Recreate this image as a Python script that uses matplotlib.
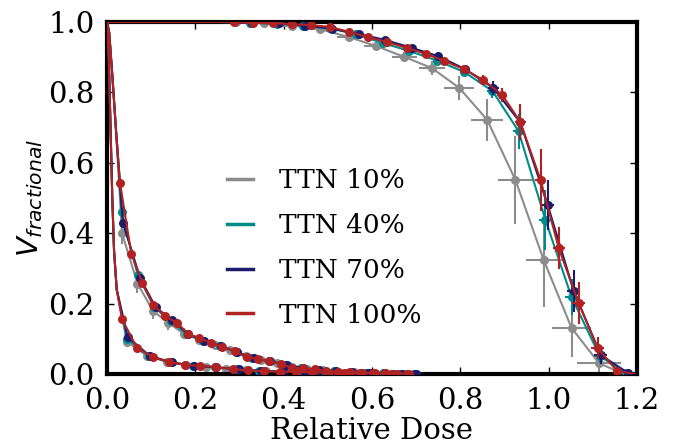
import matplotlib
matplotlib.use("Agg")
import matplotlib.pyplot as plt
from matplotlib.lines import Line2D

plt.rcParams['font.family'] = ['DejaVu Serif']
plt.rcParams['mathtext.fontset'] = 'dejavusans'

labels = ['TTN 10%', 'TTN 40%', 'TTN 70%', 'TTN 100%']
colors = ['#8c8c8c', '#008b8b', '#1c1c6e', '#b22222']

# shared lead-in of the curves (hidden under the markers)
oar1_head_x = [0.0, 0.005, 0.012, 0.02]
oar1_head_y = [1.0, 0.97, 0.85, 0.70]
oar2_head_x = [0.0, 0.004, 0.008, 0.012, 0.016, 0.022]
oar2_head_y = [1.0, 0.9, 0.7, 0.5, 0.35, 0.24]
ptv_head_x = [0.0, 0.25]
ptv_head_y = [1.0, 1.0]

# ---- TTN 10% ----
g_ptv_x = [0.293, 0.356, 0.419, 0.482, 0.548, 0.609, 0.673, 0.736, 0.798, 0.861, 0.925, 0.989, 1.052, 1.114]
g_ptv_y = [1.0, 0.997, 0.99, 0.98, 0.957, 0.932, 0.901, 0.869, 0.8125, 0.722, 0.551, 0.324, 0.131, 0.031]
g_ptv_xe = [0.02, 0.02, 0.022, 0.025, 0.026, 0.028, 0.028, 0.03, 0.034, 0.036, 0.04, 0.041, 0.045, 0.049]
g_ptv_ye = [0.0, 0.003, 0.005, 0.008, 0.01, 0.012, 0.015, 0.02, 0.035, 0.06, 0.125, 0.135, 0.084, 0.033]
g_ptv_tail_x = [1.17]
g_oar1_x = [0.034, 0.069, 0.104, 0.139, 0.174, 0.209, 0.244, 0.279, 0.314, 0.349, 0.384, 0.419, 0.454, 0.489, 0.524, 0.559, 0.594, 0.629, 0.664, 0.699]
g_oar1_y = [0.40, 0.257, 0.18, 0.145, 0.115, 0.097, 0.082, 0.068, 0.05, 0.041, 0.03, 0.02, 0.014, 0.01, 0.007, 0.005, 0.003, 0.002, 0.001, 0.0005]
g_oar1_ye = [0.03, 0.028, 0.025, 0.02, 0.015, 0.012, 0.01, 0.01, 0.008, 0.006, 0.005, 0.004, 0.003, 0.002, 0.002, 0.001, 0.001, 0.001, 0.0, 0.0]
g_oar2_x = [0.045, 0.09, 0.135, 0.18, 0.225, 0.27, 0.315, 0.36, 0.405, 0.45, 0.495, 0.54, 0.585, 0.63, 0.675]
g_oar2_y = [0.092, 0.052, 0.035, 0.025, 0.02, 0.015, 0.01, 0.008, 0.006, 0.005, 0.004, 0.003, 0.002, 0.001, 0.0005]
g_oar2_ye = [0.015, 0.01, 0.008, 0.006, 0.005, 0.004, 0.003, 0.002, 0.002, 0.001, 0.001, 0.0, 0.0, 0.0, 0.0]

# ---- TTN 40% ----
t_ptv_x = [0.325, 0.385, 0.445, 0.505, 0.565, 0.625, 0.684, 0.748, 0.809, 0.873, 0.932, 0.993, 1.052, 1.116, 1.175]
t_ptv_y = [0.998, 0.995, 0.99, 0.982, 0.965, 0.94, 0.918, 0.89, 0.858, 0.804, 0.69, 0.4375, 0.219, 0.051, 0.003]
t_ptv_xe = [0.005, 0.005, 0.006, 0.006, 0.007, 0.008, 0.008, 0.009, 0.01, 0.012, 0.013, 0.015, 0.015, 0.014, 0.01]
t_ptv_ye = [0.0, 0.001, 0.002, 0.003, 0.004, 0.006, 0.008, 0.01, 0.012, 0.02, 0.05, 0.085, 0.05, 0.02, 0.003]
t_oar1_x = [0.033, 0.07, 0.107, 0.144, 0.181, 0.218, 0.255, 0.292, 0.329, 0.366, 0.403, 0.44, 0.477, 0.514, 0.551, 0.588, 0.625, 0.662, 0.699]
t_oar1_y = [0.46, 0.28, 0.19, 0.15, 0.113, 0.093, 0.079, 0.062, 0.045, 0.036, 0.025, 0.017, 0.012, 0.008, 0.005, 0.003, 0.002, 0.001, 0.0005]
t_oar2_x = [0.045, 0.095, 0.145, 0.195, 0.245, 0.295, 0.345, 0.395, 0.445, 0.495, 0.545, 0.595, 0.645, 0.695]
t_oar2_y = [0.1, 0.05, 0.033, 0.023, 0.019, 0.013, 0.009, 0.007, 0.005, 0.004, 0.003, 0.002, 0.001, 0.0005]

# ---- TTN 70% ----
n_ptv_x = [0.328, 0.389, 0.448, 0.509, 0.570, 0.63, 0.691, 0.75, 0.811, 0.875, 0.936, 0.998, 1.057, 1.118, 1.18]
n_ptv_y = [0.998, 0.996, 0.99, 0.981, 0.966, 0.949, 0.926, 0.903, 0.866, 0.8125, 0.715, 0.48, 0.236, 0.054, 0.003]
n_ptv_xe = [0.005, 0.005, 0.006, 0.006, 0.007, 0.008, 0.008, 0.009, 0.01, 0.012, 0.013, 0.015, 0.015, 0.014, 0.01]
n_ptv_ye = [0.0, 0.001, 0.002, 0.003, 0.004, 0.006, 0.008, 0.01, 0.012, 0.02, 0.04, 0.07, 0.06, 0.025, 0.005]
n_oar1_x = [0.036, 0.075, 0.11, 0.147, 0.184, 0.22, 0.258, 0.295, 0.332, 0.37, 0.407, 0.444, 0.481, 0.518, 0.555, 0.592, 0.63, 0.667, 0.7]
n_oar1_y = [0.429, 0.273, 0.19, 0.153, 0.114, 0.094, 0.08, 0.062, 0.045, 0.036, 0.026, 0.017, 0.012, 0.008, 0.005, 0.004, 0.002, 0.001, 0.0005]
n_oar2_x = [0.047, 0.097, 0.147, 0.198, 0.248, 0.298, 0.348, 0.398, 0.448, 0.498, 0.548, 0.598, 0.648, 0.698]
n_oar2_y = [0.105, 0.051, 0.033, 0.023, 0.019, 0.013, 0.009, 0.007, 0.005, 0.004, 0.003, 0.002, 0.001, 0.0005]

# ---- TTN 100% ----
r_ptv_x = [0.287, 0.330, 0.375, 0.418, 0.461, 0.505, 0.548, 0.591, 0.634, 0.680, 0.723, 0.764, 0.809, 0.852, 0.895, 0.936, 0.982, 1.023, 1.068, 1.111, 1.155]
r_ptv_y = [1.0, 0.997, 0.997, 0.994, 0.991, 0.986, 0.972, 0.957, 0.943, 0.926, 0.909, 0.889, 0.866, 0.835, 0.793, 0.716, 0.551, 0.358, 0.202, 0.074, 0.0085]
r_ptv_xe = [0.004, 0.004, 0.005, 0.005, 0.006, 0.006, 0.007, 0.007, 0.008, 0.008, 0.009, 0.009, 0.01, 0.011, 0.012, 0.013, 0.013, 0.014, 0.015, 0.014, 0.01]
r_ptv_ye = [0.0, 0.001, 0.001, 0.002, 0.002, 0.003, 0.004, 0.005, 0.006, 0.007, 0.008, 0.01, 0.012, 0.015, 0.02, 0.05, 0.087, 0.06, 0.06, 0.03, 0.01]
r_oar1_x = [0.0295, 0.055, 0.08, 0.105, 0.131, 0.159, 0.184, 0.209, 0.236, 0.261, 0.289, 0.316, 0.341, 0.366, 0.393, 0.42, 0.443, 0.47, 0.497, 0.523, 0.55, 0.577, 0.603, 0.63, 0.657, 0.683]
r_oar1_y = [0.543, 0.341, 0.259, 0.196, 0.165, 0.145, 0.114, 0.102, 0.088, 0.077, 0.065, 0.048, 0.043, 0.037, 0.028, 0.017, 0.017, 0.013, 0.009, 0.007, 0.005, 0.004, 0.003, 0.002, 0.001, 0.0005]
r_oar2_x = [0.034, 0.068, 0.105, 0.141, 0.177, 0.211, 0.248, 0.285, 0.32, 0.356, 0.392, 0.428, 0.464, 0.5, 0.536, 0.572, 0.608, 0.644, 0.68]
r_oar2_y = [0.156, 0.074, 0.048, 0.034, 0.026, 0.023, 0.02, 0.014, 0.01, 0.008, 0.007, 0.006, 0.005, 0.004, 0.003, 0.002, 0.0015, 0.001, 0.0005]
ptv_tail_x = [1.195]

series = [
    (g_ptv_x, g_ptv_y, g_ptv_xe, g_ptv_ye, g_oar1_x, g_oar1_y, g_oar1_ye, g_oar2_x, g_oar2_y, g_oar2_ye, g_ptv_tail_x),
    (t_ptv_x, t_ptv_y, t_ptv_xe, t_ptv_ye, t_oar1_x, t_oar1_y, None, t_oar2_x, t_oar2_y, None, ptv_tail_x),
    (n_ptv_x, n_ptv_y, n_ptv_xe, n_ptv_ye, n_oar1_x, n_oar1_y, None, n_oar2_x, n_oar2_y, None, ptv_tail_x),
    (r_ptv_x, r_ptv_y, r_ptv_xe, r_ptv_ye, r_oar1_x, r_oar1_y, None, r_oar2_x, r_oar2_y, None, ptv_tail_x),
]

fig = plt.figure(figsize=(6.75, 4.47), dpi=100)
ax = fig.add_axes([0.1585, 0.1633, 0.785, 0.7875])

for i, s in enumerate(series):
    px, py, pxe, pye, o1x, o1y, o1ye, o2x, o2y, o2ye, tail_x = s
    c = colors[i]
    z = 2 + i
    ax.plot(ptv_head_x + px + tail_x, ptv_head_y + py + [0.0], color=c, lw=1.5, zorder=z)
    ax.plot(oar1_head_x + o1x, oar1_head_y + o1y, color=c, lw=1.5, zorder=z)
    ax.plot(oar2_head_x + o2x, oar2_head_y + o2y, color=c, lw=1.5, zorder=z)
    ax.errorbar(px, py, xerr=pxe, yerr=pye, fmt='o', color=c, ms=6.5, mew=0,
                elinewidth=1.5, capsize=0, zorder=z)
    ax.errorbar(o1x, o1y, yerr=o1ye, fmt='o', color=c, ms=6.5, mew=0,
                elinewidth=1.5, capsize=0, zorder=z)
    ax.errorbar(o2x, o2y, yerr=o2ye, fmt='o', color=c, ms=6.5, mew=0,
                elinewidth=1.5, capsize=0, zorder=z)

ax.set_xlim(0, 1.2)
ax.set_ylim(0, 1.0)
ax.set_xticks([0.0, 0.2, 0.4, 0.6, 0.8, 1.0, 1.2])
ax.set_yticks([0.0, 0.2, 0.4, 0.6, 0.8, 1.0])
ax.tick_params(direction='in', top=True, right=True, length=5, width=1, labelsize=21, pad=9)
for sp in ax.spines.values():
    sp.set_linewidth(3)

ax.set_xlabel('Relative Dose', fontsize=21, labelpad=2)
ax.set_ylabel('$V_{fractional}$', fontsize=21, labelpad=2)

handles = [Line2D([], [], color=c, lw=2.5) for c in colors]
ax.legend(handles, labels, loc='center', bbox_to_anchor=(0.41, 0.358), frameon=False,
          fontsize=19, handlelength=1.0, handletextpad=1.0, labelspacing=0.75)

fig.savefig('out.png', dpi=100)
